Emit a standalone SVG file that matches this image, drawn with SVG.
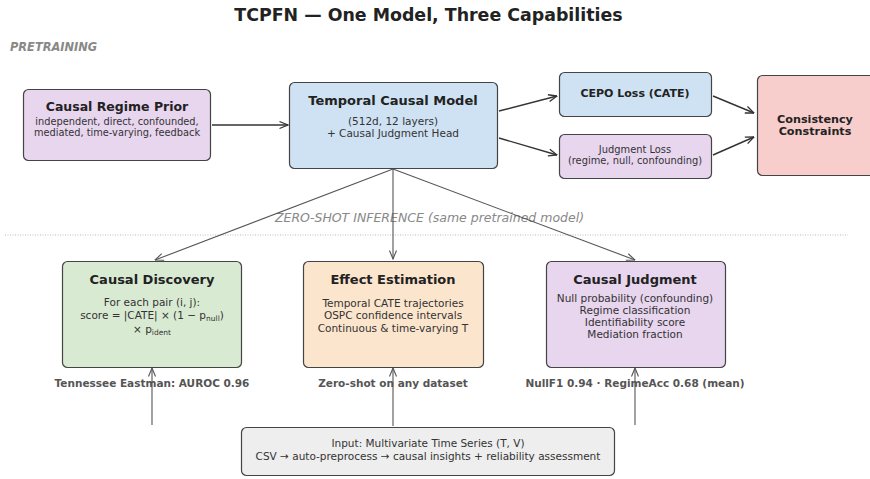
<svg xmlns="http://www.w3.org/2000/svg" width="870" height="479" viewBox="0 0 870 479">
<defs>
<marker id="ah" viewBox="0 0 10 10" refX="9.5" refY="5" markerWidth="10" markerHeight="10" markerUnits="userSpaceOnUse" orient="auto">
<path d="M1,1.5 L9.5,5 L1,8.5" fill="none" stroke="#333" stroke-width="1.3"/>
</marker>
<marker id="ahg" viewBox="0 0 10 10" refX="9.5" refY="5" markerWidth="10" markerHeight="10" markerUnits="userSpaceOnUse" orient="auto">
<path d="M1,1.5 L9.5,5 L1,8.5" fill="none" stroke="#555" stroke-width="1.1"/>
</marker>
</defs>
<style>
text{font-family:"DejaVu Sans","Liberation Sans",sans-serif;fill:#222;text-anchor:middle}
.box{stroke:#444;stroke-width:1.2}
.t{font-weight:bold;font-size:13px}
.s{font-size:10px;fill:#333}
.m{font-size:10.5px;fill:#333}
.lbl{font-weight:bold;font-size:10.5px;fill:#555}
.c{stroke:#333;stroke-width:1.4;fill:none;marker-end:url(#ah)}
.g{stroke:#555;stroke-width:1.1;fill:none;marker-end:url(#ahg)}
</style>
<rect width="870" height="479" fill="#fff"/>
<text x="428.5" y="21" style="font-weight:bold;font-size:17.4px">TCPFN — One Model, Three Capabilities</text>
<text x="10" y="51" style="font-weight:bold;font-style:italic;font-size:11.4px;fill:#888;text-anchor:start">PRETRAINING</text>
<line x1="5" y1="235" x2="848" y2="235" stroke="#bbb" stroke-width="1" stroke-dasharray="1,1.5"/>
<text x="429.5" y="222" style="font-style:italic;font-size:12.5px;fill:#888">ZERO-SHOT INFERENCE  (same pretrained model)</text>

<g id="connectors">
<line class="c" x1="212" y1="125" x2="288" y2="125"/>
<line class="c" x1="499" y1="111" x2="557" y2="96"/>
<line class="c" x1="499" y1="138" x2="557" y2="155"/>
<line class="c" x1="713" y1="96" x2="754" y2="113"/>
<line class="c" x1="713" y1="155" x2="754" y2="137"/>
<line class="g" x1="393" y1="169" x2="155" y2="260"/>
<line class="g" x1="393" y1="169" x2="393" y2="259"/>
<line class="g" x1="393" y1="169" x2="635" y2="260"/>
<line class="g" x1="152" y1="425" x2="152" y2="368"/>
<line class="g" x1="393" y1="426" x2="393" y2="368"/>
<line class="g" x1="635" y1="425" x2="635" y2="368"/>
</g>

<g id="regime-prior">
<rect class="box" x="23.5" y="89.5" width="187" height="71" rx="5" fill="#e8d5ee"/>
<text class="t" x="117" y="111" style="font-size:12.5px">Causal Regime Prior</text>
<text class="s" x="117" y="125" style="font-size:9.8px">independent, direct, confounded,</text>
<text class="s" x="117" y="136" style="font-size:9.8px">mediated, time-varying, feedback</text>
</g>

<g id="temporal-causal-model">
<rect class="box" x="289.5" y="82.5" width="208" height="86" rx="5" fill="#cfe2f3"/>
<text class="t" x="393" y="105">Temporal Causal Model</text>
<text class="m" x="393" y="125">(512d, 12 layers)</text>
<text class="m" x="393" y="137">+ Causal Judgment Head</text>
</g>

<g id="cepo-loss">
<rect class="box" x="559.5" y="72.5" width="152" height="44" rx="5" fill="#cfe2f3"/>
<text class="t" x="635" y="97" style="font-size:11px">CEPO Loss (CATE)</text>
</g>

<g id="judgment-loss">
<rect class="box" x="559.5" y="134.5" width="152" height="44" rx="5" fill="#e8d5ee"/>
<text class="s" x="635" y="153" style="font-size:9.9px">Judgment Loss</text>
<text class="s" x="635" y="164" style="font-size:9.9px">(regime, null, confounding)</text>
</g>

<g id="consistency-constraints">
<rect class="box" x="757.5" y="75.5" width="130" height="100" rx="5" fill="#f8cecc"/>
<text class="t" x="815" y="123" style="font-size:11.2px">Consistency</text>
<text class="t" x="815" y="135" style="font-size:11.2px">Constraints</text>
</g>

<g id="causal-discovery">
<rect class="box" x="62.5" y="261.5" width="179" height="106" rx="5" fill="#d9ead3"/>
<text class="t" x="152" y="284">Causal Discovery</text>
<text class="m" x="152" y="306">For each pair (i, j):</text>
<text class="m" x="152" y="319">score = |CATE| × (1 − p<tspan font-size="7.5" dy="2">null</tspan><tspan dy="-2">)</tspan></text>
<text class="m" x="152" y="333">× p<tspan font-size="7.5" dy="2">ident</tspan></text>
</g>

<g id="effect-estimation">
<rect class="box" x="303.5" y="261.5" width="180" height="106" rx="5" fill="#fce5cd"/>
<text class="t" x="393" y="284">Effect Estimation</text>
<text class="m" x="393" y="307">Temporal CATE trajectories</text>
<text class="m" x="393" y="319">OSPC confidence intervals</text>
<text class="m" x="393" y="332">Continuous &amp; time-varying T</text>
</g>

<g id="causal-judgment">
<rect class="box" x="546.5" y="261.5" width="179" height="106" rx="5" fill="#e8d5ee"/>
<text class="t" x="635" y="284">Causal Judgment</text>
<text class="m" x="635" y="302">Null probability (confounding)</text>
<text class="m" x="635" y="314">Regime classification</text>
<text class="m" x="635" y="326">Identifiability score</text>
<text class="m" x="635" y="338">Mediation fraction</text>
</g>

<g id="labels">
<text class="lbl" x="152" y="387">Tennessee Eastman: AUROC 0.96</text>
<text class="lbl" x="393" y="387">Zero-shot on any dataset</text>
<text class="lbl" x="635" y="387">NullF1 0.94 · RegimeAcc 0.68 (mean)</text>
</g>

<g id="input">
<rect class="box" x="241.5" y="427.5" width="373" height="48" rx="5" fill="#eeeeee"/>
<text class="s" x="428" y="447" style="font-size:10.5px">Input: Multivariate Time Series (T, V)</text>
<text class="s" x="428" y="460" style="font-size:10.5px">CSV → auto-preprocess → causal insights + reliability assessment</text>
</g>
</svg>
